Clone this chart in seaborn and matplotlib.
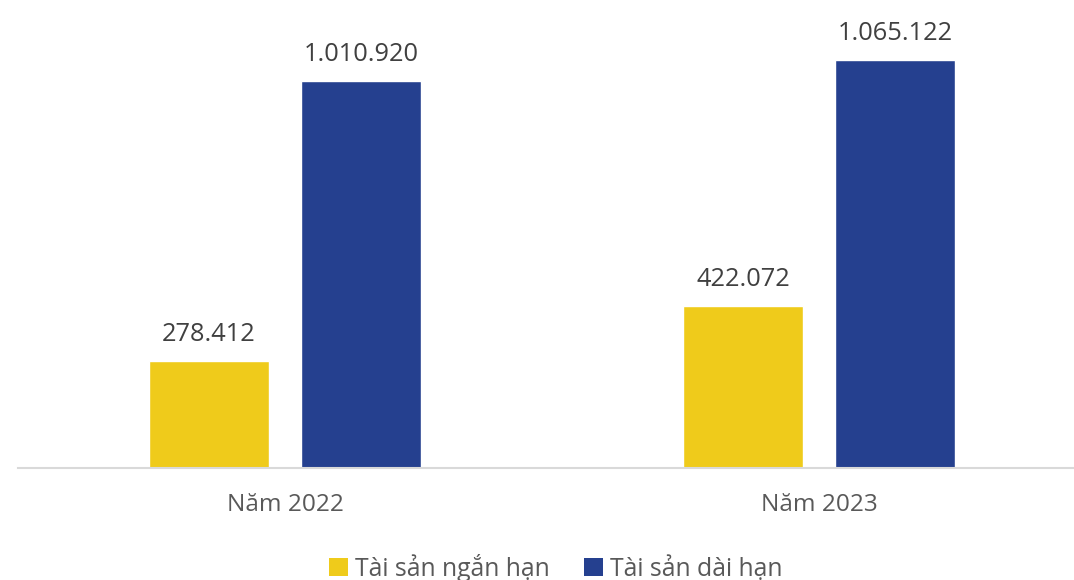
import matplotlib
matplotlib.use("Agg")
import matplotlib.pyplot as plt
import seaborn as sns
import pandas as pd
from matplotlib.patches import Patch

years = ["Năm 2022", "Năm 2023"]
series = ["Tài sản ngắn hạn", "Tài sản dài hạn"]
short_term = [278412, 422072]
long_term = [1010920, 1065122]
colors = ["#EFCB1B", "#25408F"]

df = pd.DataFrame({
    "year": years * 2,
    "series": [series[0]] * len(years) + [series[1]] * len(years),
    "value": short_term + long_term,
})

sns.set_theme(style="white")
plt.rcParams["font.family"] = ["Open Sans", "DejaVu Sans"]

W, H = 1074, 580
fig = plt.figure(figsize=(W / 100, H / 100), dpi=100)
ax = fig.add_axes([18 / W, 112 / H, 1068 / W, 468 / H])

sns.barplot(data=df, x="year", y="value", hue="series", hue_order=series,
            palette=colors, width=0.569, gap=0.211, errorbar=None,
            saturation=1, legend=False, ax=ax)

ax.set_xlim(-0.5, 1.5)
ax.set_ylim(0, 1222000)

for cont in ax.containers:
    ax.bar_label(cont, labels=[f"{v:,.0f}".replace(",", ".") for v in cont.datavalues],
                 padding=10, fontsize=18.3, color="#404040")

for s in ["top", "left", "right"]:
    ax.spines[s].set_visible(False)
ax.spines["bottom"].set_color("#D9D9D9")
ax.spines["bottom"].set_linewidth(1.5)
ax.set_yticks([])
ax.set_xlabel("")
ax.set_ylabel("")
ax.tick_params(axis="x", length=0, pad=18, labelsize=17.6, labelcolor="#595959")

handles = [Patch(facecolor=c, edgecolor="none") for c in colors]
fig.legend(handles, series, loc="center", bbox_to_anchor=(556 / W, 1 - 568 / H),
           ncol=2, frameon=False, fontsize=17.8, labelcolor="#595959",
           handlelength=0.75, handleheight=0.75, handletextpad=0.3,
           columnspacing=1.4, borderaxespad=0)

fig.savefig("out.png", dpi=100)
